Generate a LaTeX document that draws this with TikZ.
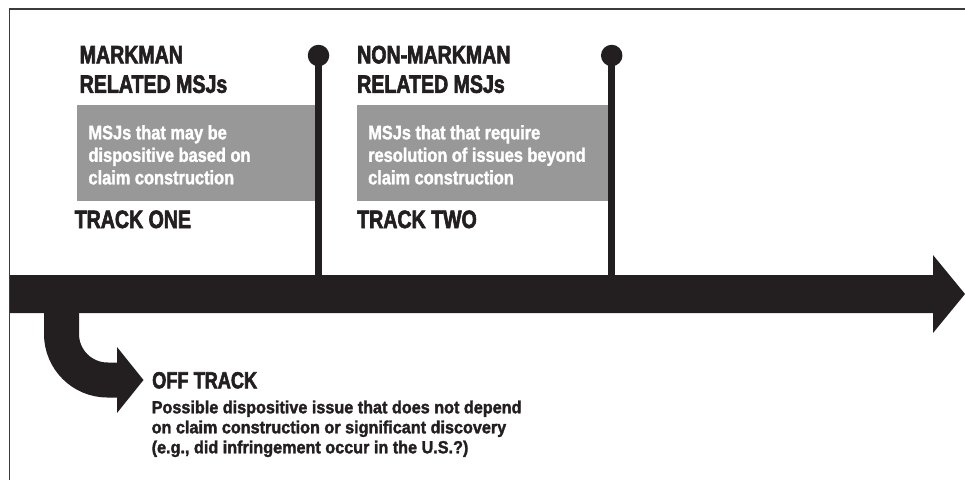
\documentclass[tikz,border=0pt]{standalone}
\usepackage{fontspec}
\setmainfont{Liberation Sans}
\newfontfamily\hfont{Liberation Sans}[FakeStretch=0.78,FakeBold=2.4]
\newfontfamily\gfont{Liberation Sans}[FakeStretch=0.84,FakeBold=1.6]
\newfontfamily\ofont{Liberation Sans}[FakeStretch=0.92,FakeBold=1.8]
\definecolor{ink}{RGB}{35,31,32}
\definecolor{boxgray}{RGB}{152,152,152}
\definecolor{framegray}{RGB}{60,60,60}
\tikzset{
  head/.style={anchor=base west,inner sep=0pt,align=left,text=ink,
    font=\hfont\bfseries\fontsize{25.1}{29.5}\selectfont},
  graybox/.style={fill=boxgray,draw=none},
  graytext/.style={anchor=base west,inner sep=0pt,align=left,text=white,
    font=\gfont\bfseries\fontsize{19.5}{22.5}\selectfont},
  offhead/.style={anchor=base west,inner sep=0pt,text=ink,
    font=\hfont\bfseries\fontsize{23.3}{27}\selectfont},
  offtext/.style={anchor=base west,inner sep=0pt,align=left,text=ink,
    font=\ofont\bfseries\fontsize{17.6}{20}\selectfont},
  dot/.style={circle,fill=ink,inner sep=0pt,minimum size=21.5pt},
  pole/.style={draw=ink,line width=7pt},
}
\begin{document}
\begin{tikzpicture}[x=1pt,y=-1pt]
\useasboundingbox (0,0) rectangle (965,480);
% frame
\draw[framegray,line width=1.5pt] (9.5,480) -- (9.5,9) -- (965,9);
% gray boxes
\fill[graybox] (77,105) rectangle (316,201);
\fill[graybox] (357,105) rectangle (609,201);
% main bar with arrow head
\coordinate (barstart) at (10,275);
\coordinate (tip) at (965,294);
\fill[ink] (barstart) -- (933,275) -- (933,255) -- (tip) -- (933,333) -- (933,313) -- (10,313) -- cycle;
% poles
\node[dot] (d1) at (318.5,55.5) {};
\node[dot] (d2) at (611.7,55.5) {};
\coordinate (b1) at (318.5,277);
\coordinate (b2) at (611.7,277);
\draw[pole] (d1.center) -- (b1);
\draw[pole] (d2.center) -- (b2);
% curved off-track arrow
\coordinate (cstart) at (61.5,300);
\coordinate (cend) at (119,380);
\draw[ink,line width=35pt] (cstart) -- (61.5,334) arc (180:90:46) -- (cend);
\coordinate (otip) at (143.5,380);
\fill[ink] (117,347) -- (otip) -- (117,413) -- cycle;
% texts (base anchor = baseline of the last line)
\node[head] (h1) at (79.5,92.8) {MARKMAN\\RELATED MSJs};
\node[head] (h2) at (357,92.8) {NON-MARKMAN\\RELATED MSJs};
\node[graytext] (g1) at (88.3,184.3) {MSJs that may be\\dispositive based on\\claim construction};
\node[graytext] (g2) at (368,184.3) {MSJs that that require\\resolution of issues beyond\\claim construction};
\node[head] (t1) at (74.5,228) {TRACK ONE};
\node[head] (t2) at (357,228) {TRACK TWO};
\node[offhead] (oh) at (152,388.3) {OFF TRACK};
\node[offtext] (ot) at (151.5,453.3) {Possible dispositive issue that does not depend\\on claim construction or significant discovery\\(e.g., did infringement occur in the U.S.?)};
\end{tikzpicture}
\end{document}
